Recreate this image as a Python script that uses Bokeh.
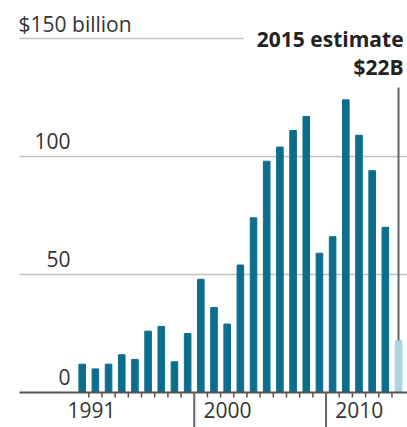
from bokeh.plotting import figure
from bokeh.models import ColumnDataSource, Range1d
from bokeh.core.properties import value
from bokeh.embed import file_html
from bokeh.resources import INLINE

# ---- data ----
years = list(range(1991, 2016))
amounts = [12, 10, 12, 16, 14, 26, 28, 13, 25, 48, 36, 29, 54, 74, 98,
           104, 111, 117, 59, 66, 124, 109, 94, 70, 22]
is_estimate = [False] * 24 + [True]
grid_values = [50, 100, 150]
y_tick_values = [0, 50, 100]
y_tick_labels = ["0", "50", "100"]
top_label = "$150 billion"
x_label_years = [1991, 2000, 2010]
x_tick_labels = ["1991", "2000", "2010"]
major_years = [2000, 2010]
estimate_title = "2015 estimate"
estimate_text = "$22B"

FONT = "Open Sans"
BAR = "#0d6e8c"
BAR_EST = "#a8d4e3"
DARK = "#555555"
TEXT = "#333333"
PX = 2.36  # pixels per billion

colors = [BAR_EST if e else BAR for e in is_estimate]
src = ColumnDataSource(dict(x=years, top=amounts, color=colors))

x0, x1 = 1984.801, 2015.681
y0, y1 = -14.83, 166.1
p = figure(width=407, height=427, x_range=Range1d(x0, x1), y_range=Range1d(y0, y1),
           output_backend="svg", toolbar_location=None, min_border=0,
           x_axis_location=None, y_axis_location=None)
p.grid.visible = False
p.outline_line_color = None

# gridlines (top one shortened, as in the original)
left_edge = 1986.245
grid_x1 = [x1 if g < max(grid_values) else 2003.24 for g in grid_values]
p.segment(x0=[left_edge] * len(grid_values), x1=grid_x1, y0=grid_values, y1=grid_values,
          line_color="#c2c2c2", line_width=1.5)

# bars
p.vbar(x="x", top="top", bottom=0, width=0.5, color="color", source=src)

# baseline
p.segment(x0=[left_edge], x1=[x1], y0=[0], y1=[0], line_color=DARK, line_width=2)

# minor ticks between years, long ticks at decade boundaries
minor = [y + 0.5 for y in years[:-1] if (y + 1) not in major_years]
p.segment(x0=minor, x1=minor, y0=[0] * len(minor), y1=[-2.1] * len(minor),
          line_color=DARK, line_width=1.5)
major = [y - 0.5 for y in major_years]
p.segment(x0=major, x1=major, y0=[0] * len(major), y1=[y0] * len(major),
          line_color="#666666", line_width=2)

# y labels (sit above their gridlines)
ly = [v + 15.5 / PX for v in y_tick_values]
p.text(x=[1990.11] * len(ly), y=ly, text=y_tick_labels,
       text_align="right", text_baseline="middle",
       text_font=value(FONT), text_font_size="21px", text_color=TEXT)
p.text(x=[1986.17], y=[max(grid_values) + 14.7 / PX], text=[top_label],
       text_align="left", text_baseline="middle",
       text_font=value(FONT), text_font_size="21px", text_color=TEXT)

# x labels
lx = [x_label_years[0] + 0.7] + [y + 0.2 for y in x_label_years[1:]]
aligns = ["center", "left", "left"]
src_x = ColumnDataSource(dict(x=lx, y=[-17.5 / PX] * 3, t=x_tick_labels, a=aligns))
p.text(x="x", y="y", text="t", text_align="a", text_baseline="middle", source=src_x,
       text_font=value(FONT), text_font_size="21px", text_color=TEXT)

# estimate annotation
p.segment(x0=[years[-1]], x1=[years[-1]], y0=[amounts[-1]], y1=[129.2],
          line_color="#666666", line_width=2)
p.text(x=[2015.38], y=[149.8], text=[estimate_title], text_align="right",
       text_baseline="middle", text_font=value(FONT), text_font_size="21px",
       text_font_style="bold", text_color="#222222")
p.text(x=[2015.38], y=[137.8], text=[estimate_text], text_align="right",
       text_baseline="middle", text_font=value(FONT), text_font_size="21px",
       text_font_style="bold", text_color="#222222")

open("out.html", "w").write(file_html(p, INLINE))
